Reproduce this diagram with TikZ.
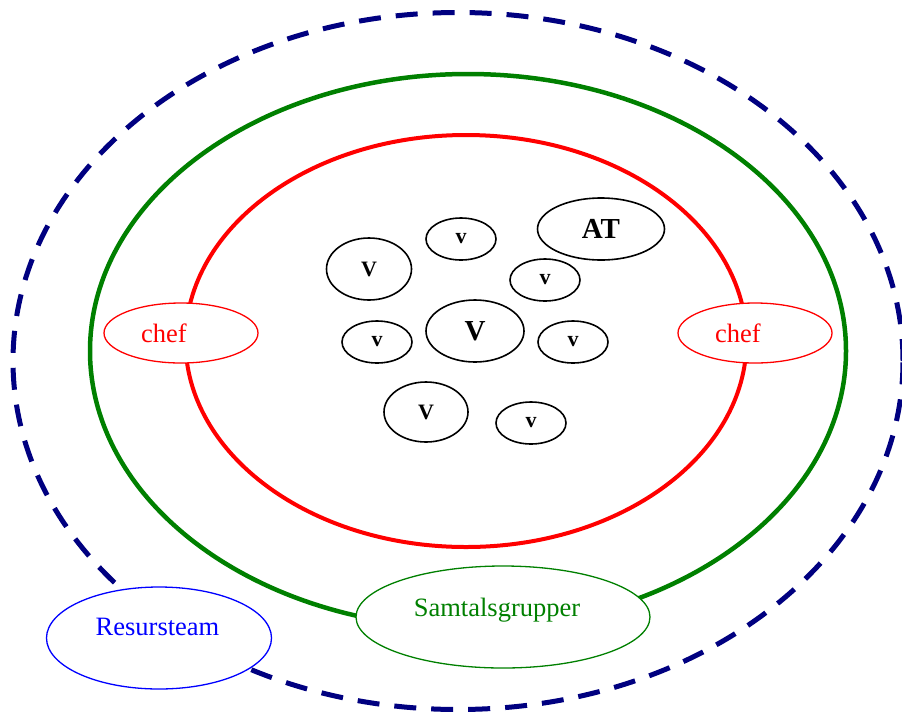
\documentclass[tikz,border=0pt]{standalone}
\usepackage{fontspec}
\setmainfont{Liberation Serif}
\usetikzlibrary{shapes.geometric}

\definecolor{navyline}{RGB}{0,0,128}
\definecolor{darkgreen}{RGB}{0,128,0}

\tikzset{
  ring/.style={ellipse, inner sep=0pt, line width=4pt},
  member/.style={ellipse, draw, fill=white, line width=1.6pt, inner sep=0pt},
  small/.style={member, minimum width=70, minimum height=42, font=\fontsize{22}{24}\selectfont\bfseries},
  big/.style={member, font=\fontsize{22}{24}\selectfont\bfseries},
  tag/.style={ellipse, fill=white, line width=1.3pt, inner sep=0pt, font=\fontsize{26.5}{29}\selectfont}
}

\begin{document}
\begin{tikzpicture}[x=1pt, y=-1pt]
            \useasboundingbox (0,0) rectangle (902,713);
            \clip (0,0) rectangle (902,713);

            % the three rings
            \node[ring, draw=navyline, line width=5pt, dash pattern=on 22pt off 15pt, minimum width=890, minimum height=697] (resurs) at (458,361) {};
            \node[ring, draw=darkgreen, line width=4.5pt, minimum width=756, minimum height=554] (samtal) at (468,351) {};
            \node[ring, draw=red, minimum width=561, minimum height=412] (arbete) at (466,341) {};

            % people inside
            \node[small] (v1) at (461,239) {v};
            \node[member, minimum width=127, minimum height=62, font=\fontsize{29}{32}\selectfont\bfseries] (at) at (601,229) {AT};
            \node[big, minimum width=85, minimum height=62] (V1) at (369,269) {V};
            \node[small] (v2) at (545,280) {v};
            \node[small] (v3) at (377,342) {v};
            \node[member, minimum width=98, minimum height=62, font=\fontsize{29}{32}\selectfont\bfseries] (V2) at (475,331) {V};
            \node[small] (v4) at (573,342) {v};
            \node[big, minimum width=84, minimum height=60] (V3) at (426,412) {V};
            \node[small] (v5) at (531,423) {v};

            % labels on the rings
            \node[tag, draw=red, text=red, minimum width=154, minimum height=60] (chefL) at (181,333) {chef\rule{34pt}{0pt}};
            \node[tag, draw=red, text=red, minimum width=154, minimum height=60] (chefR) at (755,333) {chef\rule{34pt}{0pt}};
            \node[tag, draw=darkgreen, text=darkgreen, minimum width=294, minimum height=102] (grupper) at (503,617) {\raisebox{20pt}{Samtalsgrupper}\rule{12pt}{0pt}};
            \node[tag, draw=blue, text=blue, minimum width=225, minimum height=102] (team) at (159,638) {\raisebox{22pt}{Resursteam}\rule{3pt}{0pt}};
        \end{tikzpicture}
\end{document}
